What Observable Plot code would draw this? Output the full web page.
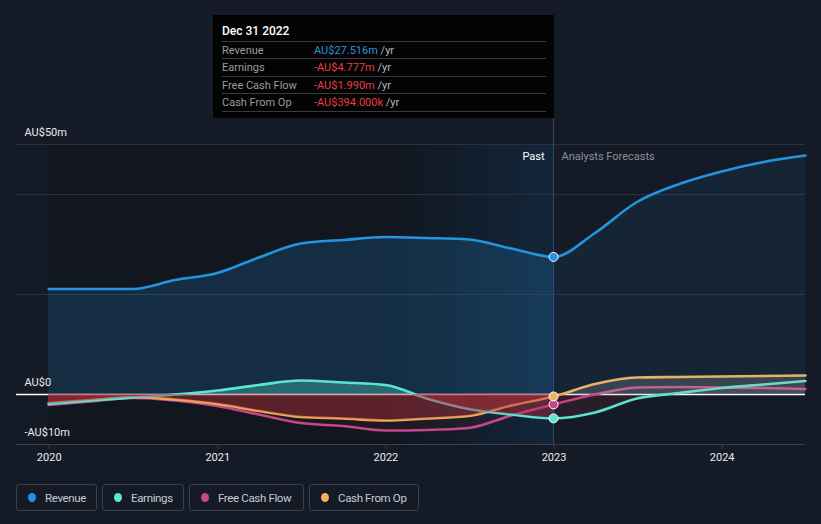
<!DOCTYPE html>
<html>
<head>
<meta charset="utf-8">
<script src="https://cdn.jsdelivr.net/npm/d3@7"></script>
<script src="https://cdn.jsdelivr.net/npm/@observablehq/plot@0.6"></script>
<style>
  html, body { margin: 0; padding: 0; background: #151b26; }
  #wrap { position: relative; width: 821px; height: 524px; background: #151b26; font-family: Roboto, "Noto Sans", sans-serif; overflow: hidden; }
  #chart { position: absolute; left: 0; top: 0; }
  #tip { position: absolute; left: 213px; top: 15px; width: 341px; height: 103px; background: #030303; }
  #tip .title { position: absolute; left: 9px; top: 9px; font-size: 12px; font-weight: 500; color: #fff; line-height: 14px; }
  #tip .rows { position: absolute; left: 9px; top: 26px; width: 324px; }
  #tip .row { height: 17.4px; line-height: 17.4px; border-top: 1px solid #3a3a3a; font-size: 11px; box-sizing: border-box; white-space: nowrap; }
  #tip .row:last-child { border-bottom: 1px solid #3a3a3a; height: 18.4px; }
  #tip .lab { display: inline-block; width: 92px; color: #9b9b9b; }
  #tip .unit { color: #b8b8b8; }
  #legend { position: absolute; left: 16px; top: 484px; display: flex; gap: 5px; }
  #legend .item { height: 27px; box-sizing: border-box; border: 1px solid #3a404b; border-radius: 3px; padding: 0 0 0 11px; display: flex; align-items: center; font-size: 11.5px; letter-spacing: -0.35px; color: #c6cad1; white-space: nowrap; }
  #legend .dot { width: 8px; height: 9px; border-radius: 50%; margin-right: 9px; flex: none; }
</style>
</head>
<body>
<div id="wrap">
  <div id="chart"></div>
  <div id="tip"></div>
  <div id="legend"></div>
</div>
<script>
// ---- data (AU$ millions) ----
const dates = ["2019-12-31","2020-03-31","2020-06-30","2020-09-30","2020-12-31","2021-03-31","2021-06-30","2021-09-30","2021-12-31","2022-03-31","2022-06-30","2022-09-30","2022-12-31","2023-03-31","2023-06-30","2023-09-30","2023-12-31","2024-03-31","2024-06-30"];
const revenue  = [21.1, 21.1, 21.1, 22.9, 24.3, 27.4, 30.2, 30.9, 31.5, 31.3, 31.0, 29.2, 27.516, 32.3, 38.5, 42.1, 44.6, 46.5, 47.8];
const earnings = [-1.9, -1.2, -0.6, 0.0, 0.8, 1.9, 2.8, 2.4, 1.9, -0.8, -2.9, -4.0, -4.777, -3.6, -0.8, 0.3, 1.3, 2.0, 2.7];
const fcf      = [-2.1, -1.4, -0.7, -1.2, -2.3, -4.0, -5.7, -6.3, -7.2, -7.1, -6.7, -4.2, -1.99, 0.0, 1.4, 1.5, 1.4, 1.3, 1.1];
const cfo      = [-1.7, -1.1, -0.5, -1.0, -1.9, -3.3, -4.5, -4.8, -5.2, -4.8, -4.3, -2.2, -0.394, 2.1, 3.4, 3.5, 3.6, 3.7, 3.8];

const seriesNames  = ["Revenue", "Earnings", "Free Cash Flow", "Cash From Op"];
const seriesKeys   = ["revenue", "earnings", "fcf", "cfo"];
const seriesColors = ["#2394df", "#5be6d1", "#c8468b", "#f0b25a"];
const legendWidths = [81, 82, 115, 110];

const yTickValues = [50, 0, -10];
const yTickLabels = ["AU$50m", "AU$0", "-AU$10m"];
const gridValues = [20, 40, 50];
const yearTicks = ["2020-01-01","2021-01-01","2022-01-01","2023-01-01","2024-01-01"];

const splitDay = "2022-12-31";
const highlightStart = "2022-01-01";
const domainStart = "2019-10-22";
const domainEnd = "2024-06-30";

const tipTitle = "Dec 31 2022";
const tipValues = ["AU$27.516m", "-AU$4.777m", "-AU$1.990m", "-AU$394.000k"];

// ---- build ----
const parse = d3.utcParse("%Y-%m-%d");
const rows = dates.map((d, i) => ({date: parse(d), revenue: revenue[i], earnings: earnings[i], fcf: fcf[i], cfo: cfo[i]}));
const split = parse(splitDay);
const past = rows.filter(r => r.date <= split);
const fut = rows.filter(r => r.date >= split);
const atSplit = rows.filter(r => +r.date === +split);
const C = Object.fromEntries(seriesKeys.map((k, i) => [k, seriesColors[i]]));
const curve = "monotone-x";

const bands = [{x1: rows[0].date, x2: split}];
const hlBand = [{x1: parse(highlightStart), x2: split}];
const yLab = yTickValues.map((v, i) => ({v, t: yTickLabels[i]}));
const pastLabel = [{date: split, t: "Past"}];
const foreLabel = [{date: split, t: "Analysts Forecasts"}];

function signedAreas(data, key, posFill, posOp, negOp) {
  return [
    Plot.areaY(data, {x: "date", y1: 0, y2: key, curve, fill: posFill, fillOpacity: posOp, ariaDescription: "pos"}),
    Plot.areaY(data, {x: "date", y1: 0, y2: key, curve, fill: "#b8303c", fillOpacity: negOp, ariaDescription: "neg"})
  ];
}

const chart = Plot.plot({
  width: 821,
  height: 470,
  marginTop: 144,
  marginBottom: 26,
  marginLeft: 16,
  marginRight: 16,
  style: {background: "transparent", color: "#dde0e5", fontFamily: "Roboto, sans-serif", fontSize: "11px", overflow: "visible"},
  x: {type: "utc", domain: [parse(domainStart), parse(domainEnd)], ticks: yearTicks.map(parse), tickFormat: d3.utcFormat("%Y"), tickSize: 5, tickPadding: 4, label: null},
  y: {domain: [-10, 50], axis: null},
  marks: [
    Plot.rect(bands, {x1: "x1", x2: "x2", fill: "#0d1118", fillOpacity: 0.5}),
    Plot.rect(hlBand, {x1: "x1", x2: "x2", fill: "url(#hl)"}),
    Plot.ruleY(gridValues, {stroke: "#2b313c", strokeWidth: 1}),
    Plot.ruleY([-10], {stroke: "#3a404b", strokeWidth: 1}),
    Plot.areaY(past, {x: "date", y1: 0, y2: "revenue", curve, fill: C.revenue, fillOpacity: 0.19}),
    Plot.areaY(fut, {x: "date", y1: 0, y2: "revenue", curve, fill: C.revenue, fillOpacity: 0.09}),
    Plot.ruleY([0], {stroke: "#ffffff", strokeWidth: 1.5}),
    Plot.ruleX([split], {stroke: "#2f4c6b", strokeWidth: 1, insetTop: -26}),
    Plot.lineY(rows, {x: "date", y: "revenue", curve, stroke: C.revenue, strokeWidth: 2.6}),
    Plot.lineY(rows, {x: "date", y: "fcf", curve, stroke: C.fcf, strokeWidth: 2.6}),
    Plot.lineY(rows, {x: "date", y: "cfo", curve, stroke: C.cfo, strokeWidth: 2.6}),
    Plot.lineY(rows, {x: "date", y: "earnings", curve, stroke: C.earnings, strokeWidth: 2.6}),
    ...signedAreas(past, "earnings", C.earnings, 0.32, 0.4),
    ...signedAreas(past, "cfo", "#b0b0b0", 0.2, 0.4),
    ...signedAreas(past, "fcf", "#b0b0b0", 0.05, 0.08),
    ...signedAreas(fut, "earnings", "#b0b0b0", 0.06, 0.12),
    ...signedAreas(fut, "cfo", "#b0b0b0", 0.22, 0.12),
    ...signedAreas(fut, "fcf", "#b0b0b0", 0.05, 0.05),
    ...seriesKeys.map(k => Plot.dot(atSplit, {x: "date", y: k, r: 4.5, fill: C[k], stroke: "#ffffff", strokeWidth: 1})),
    Plot.text(yLab, {y: "v", text: "t", frameAnchor: "left", dx: 8, dy: -12, textAnchor: "start", fill: "#e8eaee", fontSize: 11}),
    Plot.text(pastLabel, {x: "date", text: "t", frameAnchor: "top", lineAnchor: "middle", dy: 12, dx: -9, textAnchor: "end", fill: "#ffffff", fontSize: 11}),
    Plot.text(foreLabel, {x: "date", text: "t", frameAnchor: "top", lineAnchor: "middle", dy: 12, dx: 8, textAnchor: "start", fill: "#8b9099", fontSize: 11})
  ]
});
document.getElementById("chart").appendChild(chart);

// defs: gradient + clip paths based on the y scale
const y0 = chart.scale("y").apply(0);
const svg = d3.select(chart);
const defs = svg.insert("defs", ":first-child");
const g = defs.append("linearGradient").attr("id", "hl").attr("x1", 0).attr("x2", 1).attr("y1", 0).attr("y2", 0);
g.append("stop").attr("offset", "0%").attr("stop-color", "#1e78c8").attr("stop-opacity", 0.0);
g.append("stop").attr("offset", "100%").attr("stop-color", "#1e78c8").attr("stop-opacity", 0.16);
defs.append("clipPath").attr("id", "cpos").append("rect").attr("x", 0).attr("y", 0).attr("width", 821).attr("height", y0);
defs.append("clipPath").attr("id", "cneg").append("rect").attr("x", 0).attr("y", y0).attr("width", 821).attr("height", 470 - y0);
svg.selectAll('[aria-description="pos"]').attr("clip-path", "url(#cpos)");
svg.selectAll('[aria-description="neg"]').attr("clip-path", "url(#cneg)");
svg.selectAll('[aria-label^="x-axis"] line, [aria-label^="x-axis"] path').attr("stroke", "#3a404b");
svg.selectAll('[aria-label^="x-axis"] text').attr("fill", "#e8eaee");

// tooltip
const tip = document.getElementById("tip");
const tipColors = tipValues.map((v, i) => i === 0 ? C.revenue : (v.startsWith("-") ? "#e8403f" : "#5be6d1"));
tip.innerHTML = `<div class="title">${tipTitle}</div><div class="rows">` +
  seriesNames.map((n, i) => `<div class="row"><span class="lab">${n}</span><span style="color:${tipColors[i]}">${tipValues[i]}</span><span class="unit"> /yr</span></div>`).join("") +
  `</div>`;

// legend
document.getElementById("legend").innerHTML = seriesNames.map((n, i) =>
  `<div class="item" style="width:${legendWidths[i]}px"><span class="dot" style="background:${seriesColors[i]}"></span>${n}</div>`).join("");
</script>
</body>
</html>
